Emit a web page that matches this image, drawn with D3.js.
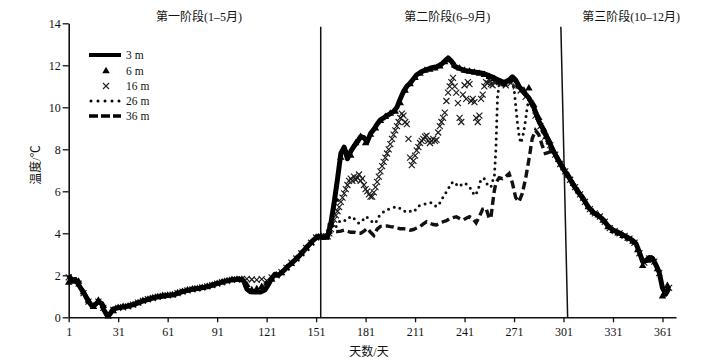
<!DOCTYPE html>
<html><head><meta charset="utf-8">
<script src="https://cdn.jsdelivr.net/npm/d3@7"></script>
<style>
body{margin:0;background:#fff}
svg{display:block}
text{font-family:"Liberation Serif","Noto Sans CJK SC",serif;fill:#111}
</style>
</head><body>
<script>
// ---------------- DATA ----------------
const seriesNames = ["3 m", "6 m", "16 m", "26 m", "36 m"];
const stageLabels = ["第一阶段(1–5月)", "第二阶段(6–9月)", "第三阶段(10–12月)"];
const xTicks = [1, 31, 61, 91, 121, 151, 181, 211, 241, 271, 301, 331, 361];
const yTicks = [0, 2, 4, 6, 8, 10, 12, 14];
const xLabel = "天数/天";
const yLabel = "温度/℃";
// stage boundaries: [day at top, day at bottom]
const stageBounds = [[153.8, 153.8], [299.4, 303.5]];

// 3 m
const days3 = [1,3,5,7,9,11,13,15,17,19,21,22,24,26,28,31,35,40,45,50,55,60,65,70,75,80,85,90,95,100,104,107,109,111,114,117,120,122,124,126,128,131,135,140,145,149,152,155,158,160,162,164,166,168,170,172,174,176,178,180,182,184,186,188,190,192,194,196,198,200,202,204,206,208,210,212,215,218,221,224,227,229,231,233,235,238,241,244,247,250,253,256,259,262,265,268,270,272,274,277,280,283,286,289,292,295,298,301,304,307,310,313,316,319,322,325,328,331,334,337,340,343,345,347,349,351,353,355,357,359,361,363,365];
const temp3 = [2.0,1.75,1.8,1.55,1.3,1.05,0.75,0.55,0.6,0.75,0.65,0.4,0.12,0.15,0.4,0.45,0.5,0.6,0.75,0.88,0.97,1.03,1.08,1.22,1.32,1.38,1.45,1.58,1.7,1.78,1.82,1.75,1.35,1.22,1.2,1.2,1.3,1.55,1.85,2.05,2.0,2.2,2.5,2.85,3.3,3.65,3.85,3.8,3.85,4.5,5.5,6.6,7.8,8.1,7.55,7.9,8.15,8.35,8.6,8.55,8.35,8.75,8.95,9.2,9.4,9.5,9.6,9.7,9.8,10.0,10.4,10.75,11.0,11.15,11.35,11.55,11.7,11.8,11.88,11.92,12.05,12.2,12.35,12.2,11.95,11.85,11.75,11.72,11.68,11.65,11.6,11.5,11.4,11.28,11.18,11.3,11.45,11.3,11.0,10.7,10.45,10.0,9.35,8.9,8.4,7.9,7.45,7.05,6.7,6.3,5.95,5.65,5.25,5.0,4.85,4.65,4.35,4.15,4.05,3.92,3.8,3.65,3.5,3.1,2.65,2.7,2.85,2.8,2.5,2.15,1.4,1.1,1.4];

// 6 m
const days6 = [1,4,7,10,13,16,19,22,25,28,31,34,37,40,43,46,49,52,55,58,61,64,67,70,73,76,79,82,85,88,91,94,97,100,103,106,109,112,115,118,121,124,127,130,133,136,139,142,145,148,151,154,157,160,163,166,169,172,175,178,181,184,187,190,193,196,199,202,205,208,211,214,217,220,223,226,229,232,235,238,241,244,247,250,253,256,259,262,265,268,271,274,277,280,283,286,289,292,295,298,301,304,307,310,313,316,319,322,325,328,331,334,337,340,343,346,349,352,355,358,361,364];
const temp6 = [1.65,1.7,1.7,1.2,0.8,0.5,0.8,0.55,0.05,0.3,0.45,0.5,0.52,0.58,0.68,0.78,0.85,0.92,0.97,1.02,1.04,1.06,1.15,1.22,1.28,1.33,1.36,1.4,1.46,1.52,1.6,1.67,1.73,1.78,1.8,1.8,1.55,1.3,1.35,1.45,1.6,1.8,2.0,2.1,2.35,2.55,2.8,3.05,3.3,3.55,3.8,3.85,3.8,4.4,5.6,7.6,7.9,7.7,8.3,8.6,8.3,8.7,9.0,9.35,9.55,9.7,9.8,10.2,10.8,11.1,11.4,11.6,11.75,11.8,11.85,11.95,12.15,12.25,12.0,11.85,11.75,11.7,11.65,11.6,11.55,11.45,11.35,11.2,11.1,11.25,11.3,11.0,10.8,10.9,10.1,9.5,8.95,8.45,7.9,7.5,7.1,6.75,6.35,6.0,5.65,5.25,5.0,4.85,4.6,4.3,4.12,4.0,3.88,3.75,3.6,3.2,2.45,2.7,2.75,2.3,1.0,1.5];

// 16 m
const days16 = [1,4,7,10,13,16,19,22,25,28,31,34,37,40,43,46,49,52,55,58,61,64,67,70,73,76,79,82,85,88,91,94,97,100,103,106,109,112,115,118,121,124,127,130,133,136,139,142,145,148,151,154,157,
158,159,160,161,162,163,164,165,166,167,168,169,170,171,172,173,174,175,176,177,178,179,180,181,182,183,184,185,186,187,188,189,190,191,192,193,194,195,196,197,198,199,200,201,202,203,204,205,206,207,208,209,210,211,212,213,214,215,216,217,218,219,220,221,222,223,224,225,226,227,228,229,230,231,232,233,234,235,236,237,238,239,240,241,242,243,244,245,246,247,248,249,250,251,252,253,254,255,256,257,258,259,260,
263,266,269,272,275,278,281,284,287,290,293,296,299,302,305,308,311,314,317,320,323,326,329,332,335,338,341,344,347,350,353,356,359,362,365];
const temp16 = [1.9,1.75,1.6,1.15,0.75,0.55,0.75,0.45,0.1,0.35,0.45,0.48,0.52,0.6,0.7,0.78,0.86,0.92,0.98,1.02,1.04,1.08,1.15,1.22,1.28,1.33,1.37,1.42,1.47,1.53,1.6,1.67,1.73,1.78,1.8,1.82,1.83,1.8,1.78,1.82,1.75,1.9,2.0,2.15,2.35,2.6,2.8,3.05,3.3,3.55,3.8,3.85,3.85,
3.85,4.0,4.2,4.45,4.65,4.85,5.05,5.25,5.5,5.7,5.9,6.1,6.3,6.5,6.6,6.5,6.7,6.55,6.65,6.8,6.5,6.6,6.3,6.1,6.0,5.85,5.75,5.75,5.95,6.2,6.45,6.7,6.95,7.2,7.4,7.6,7.8,8.0,8.25,8.5,8.7,8.9,9.1,9.3,9.5,9.7,9.6,9.3,9.2,8.5,7.6,7.25,7.45,7.7,7.95,8.1,8.3,8.4,8.5,8.6,8.65,8.4,8.3,8.4,8.5,8.4,8.45,8.8,9.1,9.3,9.5,9.75,10.3,10.7,11.0,11.2,11.4,11.0,10.7,10.2,9.5,9.3,10.6,11.05,10.4,11.2,11.1,10.3,10.4,10.25,9.5,9.3,9.6,10.4,10.6,11.0,11.2,11.15,11.3,11.1,11.05,11.2,11.2,
11.1,11.05,11.15,11.0,10.8,10.5,10.2,9.6,9.1,8.6,8.2,7.75,7.3,6.95,6.55,6.2,5.85,5.5,5.15,4.95,4.8,4.55,4.25,4.1,4.0,3.88,3.75,3.55,3.05,2.6,2.8,2.65,2.1,1.2,1.4];

// 26 m
const days26 = [150,153,156,158,159,161,163,165,167,169,171,173,175,177,179,181,183,185,187,189,191,193,195,197,199,201,203,205,207,209,211,213,215,217,219,221,223,225,227,229,231,233,235,237,239,241,243,245,247,249,251,253,255,257,258,259,260,261,262,264,266,268,270,271,272,273,274,275,276,277,278,279,280,282,284,286,288,290,293,296,299,302];
const temp26 = [3.7,3.85,3.85,4.1,4.55,4.5,4.3,4.55,4.65,4.6,4.75,4.8,4.6,4.48,4.6,4.8,4.7,4.55,4.48,4.8,4.95,5.1,5.15,5.2,5.25,5.25,5.1,5.05,5.1,5.0,5.1,5.3,5.35,5.4,5.45,5.45,5.3,5.3,5.6,5.85,6.1,6.4,6.45,6.22,6.3,6.4,6.3,6.1,5.8,6.0,6.6,6.6,6.3,6.2,6.5,6.6,8.0,10.5,11.1,11.1,11.1,11.2,11.1,10.9,10.1,9.3,8.7,8.3,8.5,8.9,9.4,10.0,10.4,10.05,9.6,9.3,8.85,8.45,8.0,7.75,7.35,6.95];

// 36 m
const days36 = [150,153,156,158,160,162,164,166,168,170,172,174,176,178,180,182,184,186,188,190,192,194,196,198,200,202,204,206,208,210,212,214,216,218,220,222,224,226,228,230,232,234,236,238,240,242,244,246,248,250,252,254,255,256,257,258,259,260,262,264,266,268,270,272,274,276,278,280,282,284,286,288,290,292,294,296,299,302];
const temp36 = [3.7,3.85,3.85,3.95,4.05,4.1,4.08,4.1,4.15,4.1,4.05,4.05,4.0,4.0,4.1,4.24,4.05,3.9,4.2,4.33,4.33,4.35,4.32,4.3,4.25,4.22,4.22,4.2,4.15,4.18,4.25,4.32,4.45,4.55,4.48,4.42,4.4,4.48,4.55,4.6,4.7,4.75,4.79,4.7,4.63,4.72,4.79,4.7,4.5,4.8,5.15,5.2,4.95,4.7,4.75,5.4,6.0,6.4,6.65,6.6,6.7,6.85,6.4,5.7,5.5,5.9,6.6,7.5,8.5,8.9,8.7,8.2,7.8,7.85,7.95,7.8,7.4,6.95];

// ---------------- CHART ----------------
const W = 724, H = 362;
const svg = d3.select("body").append("svg").attr("width", W).attr("height", H);

const x = d3.scaleLinear().domain([1, 369.2]).range([68.7, 676]);
const y = d3.scaleLinear().domain([0, 14]).range([317.3, 23.3]);

const zip = (ds, vs) => ds.map((d, i) => ({ d, v: vs[i] }));
const s3 = zip(days3, temp3), s6 = zip(days6, temp6), s16 = zip(days16, temp16),
      s26 = zip(days26, temp26), s36 = zip(days36, temp36);

const line = d3.line().x(p => x(p.d)).y(p => y(p.v)).curve(d3.curveLinear);

// axes
const xAxis = svg.append("g").attr("transform", `translate(0,${y(0)})`)
  .call(d3.axisBottom(x).tickValues(xTicks).tickSize(5).tickSizeOuter(0).tickPadding(5));
const yAxis = svg.append("g").attr("transform", `translate(${x(1)},0)`)
  .call(d3.axisLeft(y).tickValues(yTicks).tickSize(6).tickSizeOuter(0).tickPadding(2));
[xAxis, yAxis].forEach(g => {
  g.select(".domain").attr("stroke", "#111").attr("stroke-width", 1.6);
  g.selectAll(".tick line").attr("stroke", "#111").attr("stroke-width", 1.3);
  g.selectAll(".tick text").attr("font-size", 12).attr("fill", "#111")
    .style("font-family", '"Liberation Serif", serif');
});

// stage boundary lines
stageBounds.forEach(b => {
  svg.append("line")
    .attr("x1", x(b[0])).attr("y1", y(13.84))
    .attr("x2", x(b[1])).attr("y2", y(0))
    .attr("stroke", "#111").attr("stroke-width", 1.5);
});

// stage labels
const stageCenters = [80, 230.5, 342];
stageLabels.forEach((t, i) => {
  svg.append("text").attr("x", x(stageCenters[i])).attr("y", 21)
    .attr("text-anchor", "middle").attr("font-size", 12).text(t);
});

// axis titles
svg.append("text").attr("x", 369).attr("y", 356).attr("text-anchor", "middle")
  .attr("font-size", 12).text(xLabel);
svg.append("text").attr("transform", "translate(40,165) rotate(-90)")
  .attr("text-anchor", "middle").attr("font-size", 12).text(yLabel);

// series
const plot = svg.append("g");
plot.append("path").datum(s36).attr("d", line).attr("fill", "none")
  .attr("stroke", "#111").attr("stroke-width", 3.4).attr("stroke-dasharray", "8 4");
plot.append("path").datum(s26).attr("d", line).attr("fill", "none")
  .attr("stroke", "#111").attr("stroke-width", 3).attr("stroke-linecap", "round")
  .attr("stroke-dasharray", "0 6");

const xMark = (cx, cy, r) => `M${cx - r},${cy - r}L${cx + r},${cy + r}M${cx - r},${cy + r}L${cx + r},${cy - r}`;
plot.append("g").selectAll("path").data(s16).join("path")
  .attr("d", p => xMark(x(p.d), y(p.v), 3))
  .attr("stroke", "#1a1a1a").attr("stroke-width", 1.15).attr("fill", "none");

plot.append("path").datum(s3).attr("d", line).attr("fill", "none")
  .attr("stroke", "#000").attr("stroke-width", 5).attr("stroke-linejoin", "round");

const tri = d3.symbol(d3.symbolTriangle, 24);
plot.append("g").selectAll("path").data(s6).join("path")
  .attr("transform", p => `translate(${x(p.d)},${y(p.v)})`)
  .attr("d", tri).attr("fill", "#000");

// legend
const lg = svg.append("g");
const rowsY = [55, 71, 86, 101, 116];
// 3 m
lg.append("line").attr("x1", 89).attr("x2", 121).attr("y1", rowsY[0]).attr("y2", rowsY[0])
  .attr("stroke", "#000").attr("stroke-width", 4);
// 6 m
lg.append("path").attr("transform", `translate(106,${rowsY[1]})`).attr("d", tri).attr("fill", "#000");
// 16 m
lg.append("path").attr("d", xMark(106, rowsY[2], 3)).attr("stroke", "#222").attr("stroke-width", 1.1);
// 26 m
lg.append("line").attr("x1", 91).attr("x2", 120).attr("y1", rowsY[3]).attr("y2", rowsY[3])
  .attr("stroke", "#000").attr("stroke-width", 3).attr("stroke-linecap", "round")
  .attr("stroke-dasharray", "0 7");
// 36 m
lg.append("line").attr("x1", 89).attr("x2", 121).attr("y1", rowsY[4]).attr("y2", rowsY[4])
  .attr("stroke", "#000").attr("stroke-width", 3.5).attr("stroke-dasharray", "9 3");
seriesNames.forEach((n, i) => {
  lg.append("text").attr("x", 126).attr("y", rowsY[i] + 4).attr("font-size", 11.5).text(n);
});
</script>
</body></html>
